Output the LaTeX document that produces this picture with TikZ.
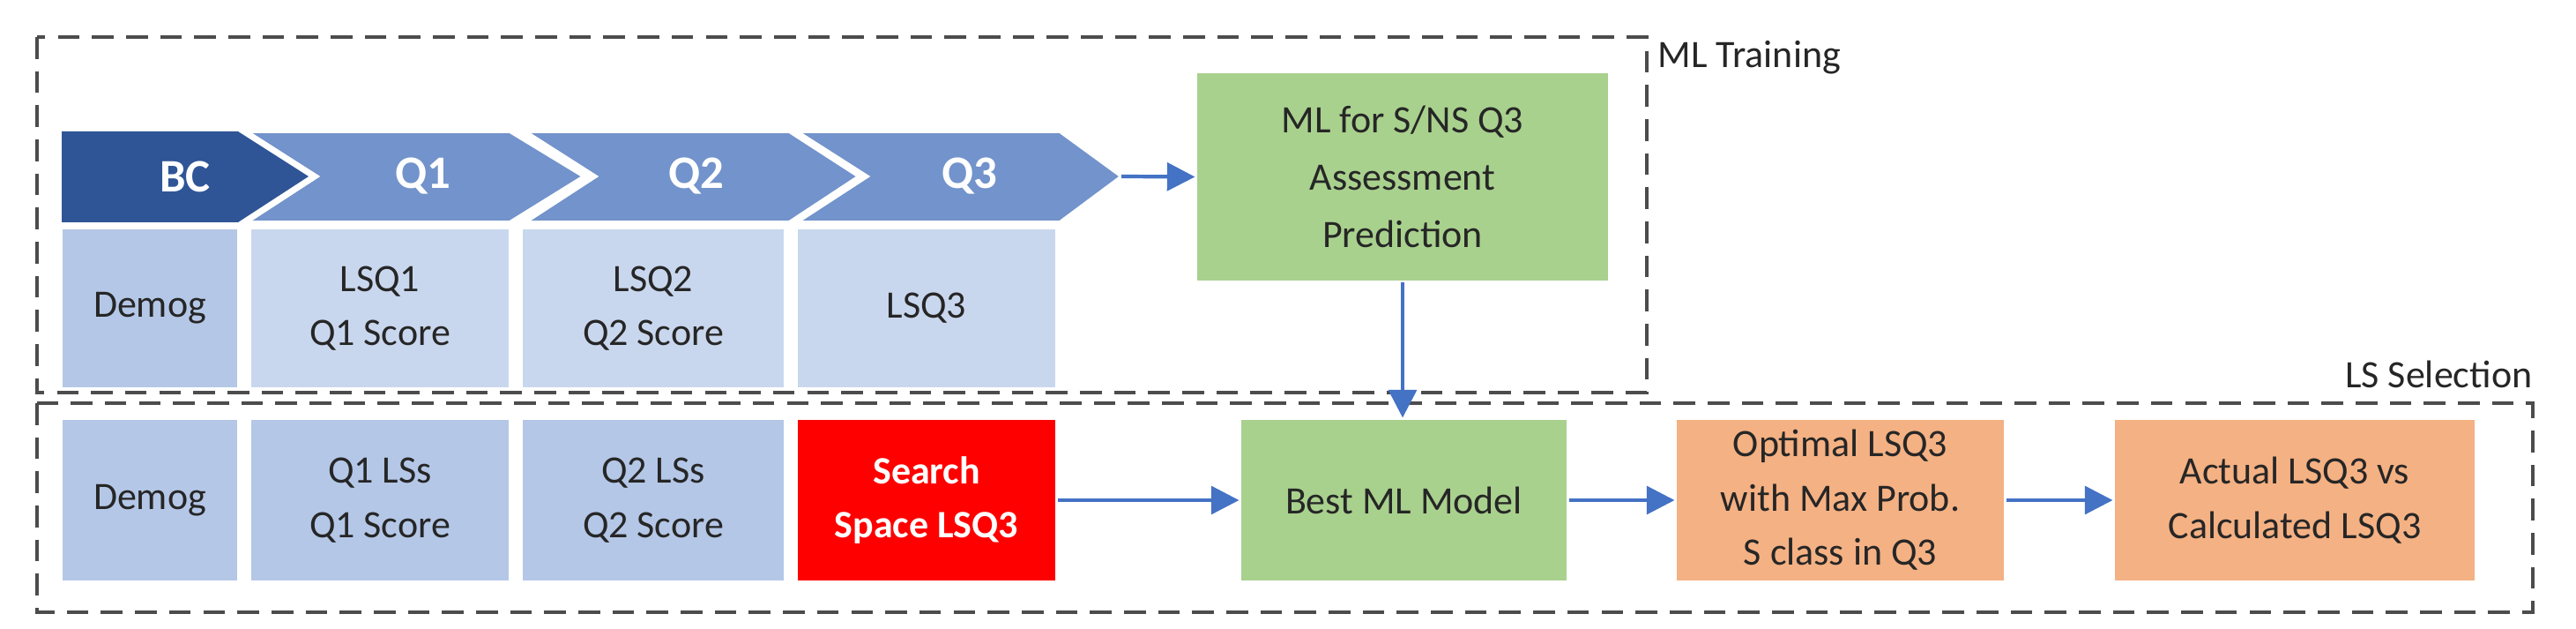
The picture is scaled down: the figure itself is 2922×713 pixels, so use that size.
\documentclass[tikz,border=0pt]{standalone}
\usepackage{fontspec}
\setmainfont{Carlito}
\usetikzlibrary{arrows.meta}
\definecolor{dblue}{HTML}{2F5597}
\definecolor{mblue}{HTML}{7293CB}
\definecolor{lblue}{HTML}{B4C7E7}
\definecolor{vlblue}{HTML}{C9D7EE}
\definecolor{lgreen}{HTML}{A9D18E}
\definecolor{lorange}{HTML}{F4B183}
\definecolor{arr}{HTML}{4472C4}
\tikzset{
  box/.style={draw=white, line width=0.8pt, align=center, inner sep=0pt,
    font=\fontsize{12.5}{17.5}\selectfont, text=black!85},
  chev/.style={draw=white, line width=1pt},
  chevtxt/.style={font=\bfseries\fontsize{15}{16}\selectfont, text=white},
  grp/.style={draw=black!70, line width=1.1pt, dash pattern=on 7pt off 4pt},
  conn/.style={draw=arr, line width=1.2pt, -{Triangle[length=9pt,width=9pt]}},
  lbl/.style={font=\fontsize{12.5}{15}\selectfont, text=black!85, inner sep=0pt}
}
\begin{document}
\begin{tikzpicture}[x=0.01cm,y=-0.01cm]
\useasboundingbox (0,0) rectangle (2922,713);
% group boxes
\draw[grp] (42,42) rectangle (1868,445);
\draw[grp] (42,457) rectangle (2873,694);
\node[lbl, anchor=west] (mlt) at (1880,65) {ML Training};
\node[lbl, anchor=east] (lss) at (2873,424) {LS Selection};
% chevrons
\fill[dblue] (70,149) -- (270,149) -- (350,200) -- (270,252) -- (70,252) -- cycle;
\filldraw[mblue,chev] (280,149) -- (578,149) -- (662,200) -- (578,252) -- (280,252) -- (360,200) -- cycle;
\filldraw[mblue,chev] (596,149) -- (895,149) -- (974,200) -- (895,252) -- (596,252) -- (676,200) -- cycle;
\filldraw[mblue,chev] (904,149) -- (1202,149) -- (1272,200) -- (1202,252) -- (904,252) -- (984,200) -- cycle;
\node[chevtxt] (bc) at (210,200) {BC};
\node[chevtxt] (q1) at (480,200) {Q1};
\node[chevtxt] (q2) at (790,200) {Q2};
\node[chevtxt] (q3) at (1100,200) {Q3};
\coordinate (q3tip) at (1272,200);
% row 1
\node[box, fill=lblue, minimum width=2cm, minimum height=1.81cm] (d1) at (170,349.5) {Demog};
\node[box, fill=vlblue, minimum width=2.94cm, minimum height=1.81cm] (l1) at (431,349.5) {LSQ1\\Q1 Score};
\node[box, fill=vlblue, minimum width=2.98cm, minimum height=1.81cm] (l2) at (741,349.5) {LSQ2\\Q2 Score};
\node[box, fill=vlblue, minimum width=2.94cm, minimum height=1.81cm] (l3) at (1051,349.5) {LSQ3};
\node[box, fill=lgreen, minimum width=4.68cm, minimum height=2.37cm, font=\fontsize{12.5}{18.5}\selectfont] (ml) at (1591,200.5) {ML for S/NS Q3\\Assessment\\Prediction};
% row 2
\node[box, fill=lblue, minimum width=2cm, minimum height=1.84cm] (d2) at (170,567) {Demog};
\node[box, fill=lblue, minimum width=2.94cm, minimum height=1.84cm] (s1) at (431,567) {Q1 LSs\\Q1 Score};
\node[box, fill=lblue, minimum width=2.98cm, minimum height=1.84cm] (s2) at (741,567) {Q2 LSs\\Q2 Score};
\node[box, fill=red, minimum width=2.94cm, minimum height=1.84cm, text=white, font=\bfseries\fontsize{12.5}{17.5}\selectfont] (ss) at (1051,567) {Search\\Space LSQ3};
\node[box, fill=lgreen, minimum width=3.71cm, minimum height=1.84cm] (best) at (1592.5,567) {Best ML Model};
\node[box, fill=lorange, minimum width=3.73cm, minimum height=1.84cm] (opt) at (2087.5,567) {Optimal LSQ3\\with Max Prob.\\S class in Q3};
\node[box, fill=lorange, minimum width=4.1cm, minimum height=1.84cm] (act) at (2603,567) {Actual LSQ3 vs\\Calculated LSQ3};
% connectors
\draw[conn] (q3tip) -- (ml.west);
\draw[conn] (ml.south) -- (ml.south |- best.north);
\draw[conn] (ss.east) -- (best.west);
\draw[conn] (best.east) -- (opt.west);
\draw[conn] (opt.east) -- (act.west);
\end{tikzpicture}
\end{document}
